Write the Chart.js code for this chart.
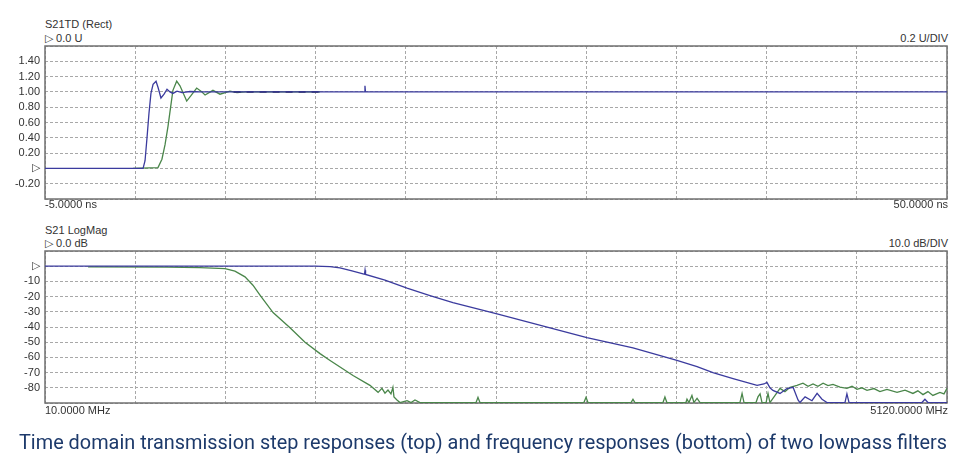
<!DOCTYPE html>
<html>
<head>
<meta charset="utf-8">
<script src="https://cdn.jsdelivr.net/npm/chart.js@4.4.1/dist/chart.umd.min.js"></script>
<style>
    body { margin: 0; background: #fff; width: 960px; height: 465px; position: relative; overflow: hidden; font-family: "Liberation Sans", Arial, sans-serif; }
    .lbl { position: absolute; font-size: 11px; line-height: 12px; color: #333; white-space: nowrap; }
    canvas { position: absolute; left: 0; }
    svg { position: absolute; left: 0; top: 420px; }
</style>
</head>
<body>
<div class="lbl" style="left:45px;top:18px">S21TD (Rect)</div>
<div class="lbl" style="left:45px;top:32px">▷ 0.0 U</div>
<div class="lbl" style="right:12px;top:32px">0.2 U/DIV</div>
<canvas id="stepChart" width="960" height="161" style="top:42px"></canvas>
<div class="lbl" style="left:45px;top:198px">-5.0000 ns</div>
<div class="lbl" style="right:12px;top:198px">50.0000 ns</div>

<div class="lbl" style="left:45px;top:224px">S21 LogMag</div>
<div class="lbl" style="left:45px;top:237px">▷ 0.0 dB</div>
<div class="lbl" style="right:12px;top:237px">10.0 dB/DIV</div>
<canvas id="magChart" width="960" height="160" style="top:247px"></canvas>
<div class="lbl" style="left:45px;top:404px">10.0000 MHz</div>
<div class="lbl" style="right:12px;top:404px">5120.0000 MHz</div>

<svg width="960" height="45">
    <text x="483" y="29" text-anchor="middle" textLength="928" lengthAdjust="spacingAndGlyphs"
          font-family="Roboto, sans-serif" font-size="21" fill="#1d3a6b">Time domain transmission step responses (top) and frequency responses (bottom) of two lowpass filters</text>
</svg>

<script>
// time domain step responses (ns, U)
const stepTimeBlue = [-5, 0.98, 1.10, 1.22, 1.34, 1.46, 1.59, 1.77, 1.89, 2.07, 2.26, 2.44, 2.62, 2.80, 3.05, 3.35, 3.84, 4.45, 14.48, 14.51, 14.54, 50];
const stepBlue     = [0, 0, 0.1, 0.4, 0.72, 0.98, 1.1, 1.14, 1.06, 0.92, 0.97, 1.035, 1.0, 0.98, 1.01, 0.99, 1.005, 1.0, 1.0, 1.08, 1.0, 1.0];
const stepTimeGreen = [0.37, 1.89, 2.13, 2.32, 2.50, 2.62, 2.80, 3.03, 3.23, 3.64, 3.90, 4.25, 4.51, 4.76, 5.24, 5.67, 6.28, 6.71, 7.20, 11.77];
const stepGreen     = [0, 0.01, 0.12, 0.31, 0.55, 0.74, 1.02, 1.14, 1.08, 0.88, 0.95, 1.05, 1.01, 0.96, 1.02, 0.97, 1.01, 0.99, 1.0, 1.0];
const overlapTime = [6.5, 11.8];
const overlapLevel = [1.0, 1.0];

// frequency responses (MHz, dB)
const freqBlue = [10, 1540, 1625, 1681, 1749, 1812, 1820, 1823, 1826, 1936, 2061, 2191, 2321, 2571, 2871, 3080, 3341, 3590, 3704, 3794, 3908, 4044, 4083, 4100, 4117, 4134, 4174, 4213, 4248, 4276, 4287, 4316, 4355, 4384, 4412, 4440, 4542, 4553, 4565, 4978, 4995, 5012, 5120];
const magBlue  = [0, 0, -0.3, -1.1, -3.0, -5.0, -5.3, -2.6, -5.4, -9.2, -14.4, -19.3, -24.0, -31.3, -40.5, -47, -53.8, -62, -66, -70, -74, -78.4, -77.5, -76.5, -80, -81.7, -83.7, -80.5, -79.7, -88, -89.7, -86, -88.5, -83.7, -87.5, -89.7, -89.7, -84, -89.7, -89.7, -87.5, -89.7, -89.7];
const freqGreen = [254, 701, 888, 1030, 1086, 1143, 1188, 1228, 1302, 1398, 1483, 1568, 1625, 1755, 1851, 1897, 1919, 1936, 1953, 1970, 1981, 1987, 2004, 2021, 2061, 2084, 2106, 2134, 2452, 2463, 2474, 3063, 3075, 3086, 3330, 3341, 3352, 3511, 3522, 3533, 3641, 3647, 3658, 3675, 3686, 3704, 3721, 3947, 3959, 3970, 4038, 4049, 4061, 4072, 4095, 4106, 4117, 4146, 4174, 4202, 4231, 4270, 4304, 4333, 4361, 4389, 4418, 4446, 4474, 4514, 4553, 4582, 4610, 4638, 4667, 4706, 4740, 4780, 4837, 4882, 4927, 4955, 4984, 5012, 5040, 5080, 5103, 5120];
const magGreen  = [-0.5, -0.6, -1.0, -1.6, -3.2, -7, -12.5, -19, -30.5, -40.5, -50, -57.5, -62, -71.9, -78.4, -83, -80.4, -83.5, -81.5, -84, -79.7, -86, -88, -89.7, -88.5, -89.7, -88, -89.7, -89.7, -86.3, -89.7, -89.7, -86.3, -89.7, -89.7, -87.6, -89.7, -89.7, -86, -89.7, -89.7, -87.5, -89.7, -85, -89.7, -87, -89.7, -89.7, -83.7, -89.7, -89.7, -86, -84, -89.7, -89.7, -83.7, -89.7, -85, -80.4, -82.5, -79.7, -78.4, -77, -79, -77.5, -79, -77, -78.5, -77.8, -79.5, -80.4, -79, -81, -80, -81.7, -80.5, -82.5, -81, -83, -81.5, -83.7, -82, -84.5, -82.5, -85, -83, -84, -80.4];

const BLUE = '#3b3b9e';
const GREEN = '#4a864a';

document.addEventListener('DOMContentLoaded', () => {
    const toPoints = (xs, ys) => xs.map((x, i) => ({ x, y: ys[i] }));

    const frame = {
        id: 'frame',
        beforeDatasetsDraw(chart) {
            const { ctx, chartArea: a } = chart;
            ctx.save();
            ctx.strokeStyle = '#707070';
            ctx.lineWidth = 1.5;
            ctx.strokeRect(a.left, a.top, a.right - a.left, a.bottom - a.top);
            ctx.restore();
        }
    };

    const line = (data, color, extra = {}) => Object.assign({
        data,
        borderColor: color,
        borderWidth: 1.3,
        pointRadius: 0,
        tension: 0,
        fill: false
    }, extra);

    const buildOptions = (xMin, xMax, xStep, yMin, yMax, yStep, yLabel) => ({
        responsive: false,
        animation: false,
        events: [],
        layout: { padding: { top: 4, bottom: 4, left: 0, right: 13 } },
        plugins: { legend: { display: false }, tooltip: { enabled: false } },
        scales: {
            x: {
                type: 'linear',
                min: xMin,
                max: xMax,
                afterFit: (scale) => {
                    scale.height = 0;
                    scale.paddingLeft = 0;
                    scale.paddingRight = 0;
                },
                ticks: { display: false, stepSize: xStep },
                grid: { color: '#a8a8a8', drawTicks: false },
                border: { display: false, dash: [3, 2] }
            },
            y: {
                type: 'linear',
                min: yMin,
                max: yMax,
                afterFit: (scale) => {
                    // fixed gutter for the tick labels, no extra room at the ends
                    scale.width = 45;
                    scale.paddingTop = 0;
                    scale.paddingBottom = 0;
                },
                ticks: {
                    stepSize: yStep,
                    autoSkip: false,
                    padding: 5,
                    color: '#333',
                    font: { family: '"Liberation Sans", Arial, sans-serif', size: 11 },
                    callback: (v) => yLabel(v)
                },
                grid: { color: '#a8a8a8', drawTicks: false },
                border: { display: false, dash: [3, 2] }
            }
        }
    });

    new Chart(document.getElementById('stepChart'), {
        type: 'line',
        data: {
            datasets: [
                line(toPoints(stepTimeBlue, stepBlue), BLUE),
                line(toPoints(overlapTime, overlapLevel), '#2a2a55', { borderDash: [7, 6], borderWidth: 1.6 }),
                line(toPoints(stepTimeGreen, stepGreen), GREEN)
            ]
        },
        options: buildOptions(-5, 50, 5.5, -0.4, 1.6, 0.2, (v) => {
            const r = Math.round(v * 100) / 100;
            if (r === 0) return '▷';
            if (r > 1.5 || r < -0.3) return '';
            return r.toFixed(2);
        }),
        plugins: [frame]
    });

    new Chart(document.getElementById('magChart'), {
        type: 'line',
        data: {
            datasets: [
                line(toPoints(freqBlue, magBlue), BLUE),
                line(toPoints(freqGreen, magGreen), GREEN)
            ]
        },
        options: buildOptions(10, 5120, 511, -90, 10, 10, (v) => {
            const r = Math.round(v);
            if (r === 0) return '▷';
            if (r > 5 || r < -85) return '';
            return String(r);
        }),
        plugins: [frame]
    });
});
</script>
</body>
</html>
